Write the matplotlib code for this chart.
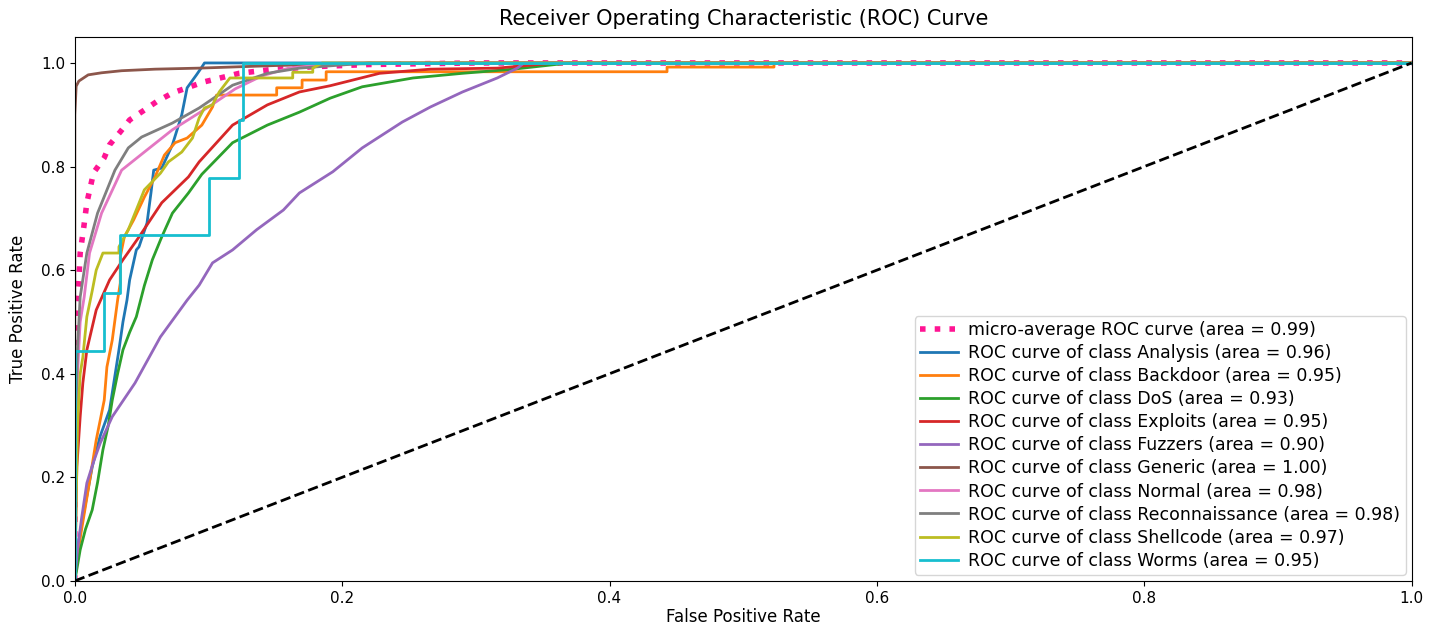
import numpy as np
import matplotlib
matplotlib.use('Agg')
import matplotlib.pyplot as plt

# per-class ROC points (fpr, tpr) and AUC values
class_names = ['Analysis', 'Backdoor', 'DoS', 'Exploits', 'Fuzzers', 'Generic',
               'Normal', 'Reconnaissance', 'Shellcode', 'Worms']
class_auc = [0.96, 0.95, 0.93, 0.95, 0.90, 1.00, 0.98, 0.98, 0.97, 0.95]

micro_auc = 0.99
micro_fpr = [0, 0, 0.001, 0.003, 0.004, 0.0067, 0.009, 0.014, 0.022, 0.026, 0.034, 0.041,
             0.052, 0.061, 0.073, 0.096, 0.123, 0.146, 0.18, 0.22, 0.3, 1.0]
micro_tpr = [0, 0.45, 0.52, 0.581, 0.633, 0.683, 0.73, 0.788, 0.817, 0.842, 0.867, 0.89,
             0.909, 0.925, 0.942, 0.963, 0.98, 0.987, 0.993, 0.997, 1.0, 1.0]

analysis_fpr = [0, 0.003, 0.008, 0.013, 0.019, 0.026, 0.033, 0.036, 0.039, 0.041, 0.046, 0.048,
                0.054, 0.057, 0.059, 0.065, 0.073, 0.080, 0.084, 0.091, 0.095, 0.097, 1.0]
analysis_tpr = [0, 0.08, 0.15, 0.22, 0.28, 0.33, 0.446, 0.50, 0.542, 0.581, 0.639, 0.645,
                0.691, 0.75, 0.793, 0.797, 0.842, 0.90, 0.952, 0.977, 0.992, 1.0, 1.0]

backdoor_fpr = [0, 0.002, 0.005, 0.010, 0.016, 0.022, 0.024, 0.028, 0.032, 0.034, 0.034, 0.037,
                0.044, 0.052, 0.060, 0.067, 0.075, 0.084, 0.095, 0.103, 0.106, 0.151, 0.151,
                0.17, 0.17, 0.188, 0.188, 0.443, 0.443, 0.523, 0.523, 1.0]
backdoor_tpr = [0, 0.05, 0.098, 0.176, 0.272, 0.349, 0.413, 0.465, 0.542, 0.575, 0.626, 0.664,
                0.697, 0.741, 0.78, 0.822, 0.846, 0.855, 0.88, 0.915, 0.938, 0.938, 0.952,
                0.952, 0.967, 0.967, 0.983, 0.983, 0.992, 0.992, 1.0, 1.0]

dos_fpr = [0, 0.002, 0.004, 0.008, 0.013, 0.017, 0.021, 0.025, 0.028, 0.032, 0.036, 0.041, 0.046,
           0.052, 0.058, 0.065, 0.073, 0.085, 0.095, 0.118, 0.144, 0.168, 0.191, 0.215, 0.253,
           0.29, 0.328, 0.37, 1.0]
dos_tpr = [0, 0.03, 0.06, 0.10, 0.137, 0.19, 0.253, 0.30, 0.349, 0.40, 0.446, 0.48, 0.51,
           0.57, 0.62, 0.664, 0.71, 0.749, 0.785, 0.846, 0.880, 0.905, 0.932, 0.954, 0.971,
           0.98, 0.988, 1.0, 1.0]

exploits_fpr = [0, 0.0005, 0.001, 0.0015, 0.004, 0.006, 0.009, 0.016, 0.026, 0.036, 0.048,
                0.065, 0.085, 0.093, 0.118, 0.144, 0.168, 0.191, 0.228, 0.266, 0.316, 0.36, 1.0]
exploits_tpr = [0, 0.08, 0.15, 0.22, 0.317, 0.382, 0.446, 0.523, 0.581, 0.62, 0.664,
                0.73, 0.78, 0.809, 0.880, 0.919, 0.944, 0.956, 0.98, 0.988, 0.99, 1.0, 1.0]

fuzzers_fpr = [0, 0.002, 0.005, 0.009, 0.014, 0.019, 0.028, 0.045, 0.064, 0.084, 0.093, 0.103,
               0.118, 0.136, 0.156, 0.168, 0.193, 0.215, 0.245, 0.266, 0.29, 0.316, 0.331,
               0.336, 1.0]
fuzzers_tpr = [0, 0.06, 0.12, 0.189, 0.23, 0.266, 0.317, 0.382, 0.471, 0.542, 0.571, 0.614,
               0.639, 0.678, 0.716, 0.749, 0.79, 0.836, 0.886, 0.915, 0.944, 0.971, 0.99,
               1.0, 1.0]

generic_fpr = [0, 0, 0.001, 0.003, 0.01, 0.02, 0.035, 0.06, 0.093, 0.15, 0.2, 0.3, 1.0]
generic_tpr = [0, 0.9, 0.955, 0.965, 0.977, 0.981, 0.985, 0.988, 0.99, 0.995, 0.998, 1.0, 1.0]

normal_fpr = [0, 0.0005, 0.001, 0.002, 0.004, 0.007, 0.011, 0.020, 0.035, 0.052, 0.073, 0.1,
              0.12, 0.14, 0.16, 0.2, 1.0]
normal_tpr = [0, 0.1, 0.2, 0.4, 0.5, 0.548, 0.633, 0.71, 0.793, 0.828, 0.871, 0.915,
              0.95, 0.975, 0.99, 1.0, 1.0]

recon_fpr = [0, 0.0003, 0.001, 0.002, 0.004, 0.009, 0.017, 0.030, 0.040, 0.050, 0.073, 0.093,
             0.118, 0.144, 0.168, 0.22, 1.0]
recon_tpr = [0, 0.2, 0.35, 0.45, 0.548, 0.633, 0.71, 0.793, 0.836, 0.857, 0.884, 0.913,
             0.957, 0.98, 0.99, 1.0, 1.0]

shellcode_fpr = [0, 0.002, 0.004, 0.006, 0.009, 0.013, 0.016, 0.021, 0.033, 0.033, 0.040,
                 0.045, 0.052, 0.064, 0.07, 0.08, 0.088, 0.093, 0.097, 0.103, 0.108, 0.116,
                 0.163, 0.163, 0.178, 0.178, 0.185, 1.0]
shellcode_tpr = [0, 0.3, 0.40, 0.432, 0.51, 0.56, 0.60, 0.633, 0.633, 0.645, 0.678,
                 0.71, 0.755, 0.787, 0.809, 0.828, 0.855, 0.894, 0.913, 0.919, 0.944, 0.971,
                 0.971, 0.982, 0.982, 0.99, 1.0, 1.0]

worms_fpr = [0, 0, 0.022, 0.022, 0.034, 0.034, 0.100, 0.100, 0.123, 0.123, 0.126, 0.126, 1.0]
worms_tpr = [0, 0.444, 0.444, 0.556, 0.556, 0.667, 0.667, 0.778, 0.778, 0.889, 0.889, 1.0, 1.0]

class_fpr = [analysis_fpr, backdoor_fpr, dos_fpr, exploits_fpr, fuzzers_fpr, generic_fpr,
             normal_fpr, recon_fpr, shellcode_fpr, worms_fpr]
class_tpr = [analysis_tpr, backdoor_tpr, dos_tpr, exploits_tpr, fuzzers_tpr, generic_tpr,
             normal_tpr, recon_tpr, shellcode_tpr, worms_tpr]


def plot_roc():
    fig = plt.figure(figsize=(14.39, 6.28), dpi=100)
    ax = fig.add_axes([0.052, 0.075, 0.929, 0.866])
    lw = 2

    ax.plot(micro_fpr, micro_tpr, color='deeppink', linestyle=':', linewidth=4,
            label='micro-average ROC curve (area = {0:0.2f})'.format(micro_auc))
    colors = plt.rcParams['axes.prop_cycle'].by_key()['color']
    for i, name in enumerate(class_names):
        ax.plot(class_fpr[i], class_tpr[i], color=colors[i], lw=lw,
                label='ROC curve of class {0} (area = {1:0.2f})'.format(name, class_auc[i]))

    ax.plot([0, 1], [0, 1], 'k--', lw=lw)
    ax.set_xlim([0.0, 1.0])
    ax.set_ylim([0.0, 1.05])
    ax.tick_params(labelsize=11)
    ax.set_xlabel('False Positive Rate', fontsize=12, labelpad=2)
    ax.set_ylabel('True Positive Rate', fontsize=12, labelpad=10)
    ax.set_title('Receiver Operating Characteristic (ROC) Curve', fontsize=15, pad=9)
    ax.legend(loc='lower right', fontsize=12.5, labelspacing=0.29, handlelength=2.2,
              handletextpad=0.6, borderpad=0.3, borderaxespad=0.35)
    fig.savefig('out.png')


if __name__ == '__main__':
    plot_roc()
